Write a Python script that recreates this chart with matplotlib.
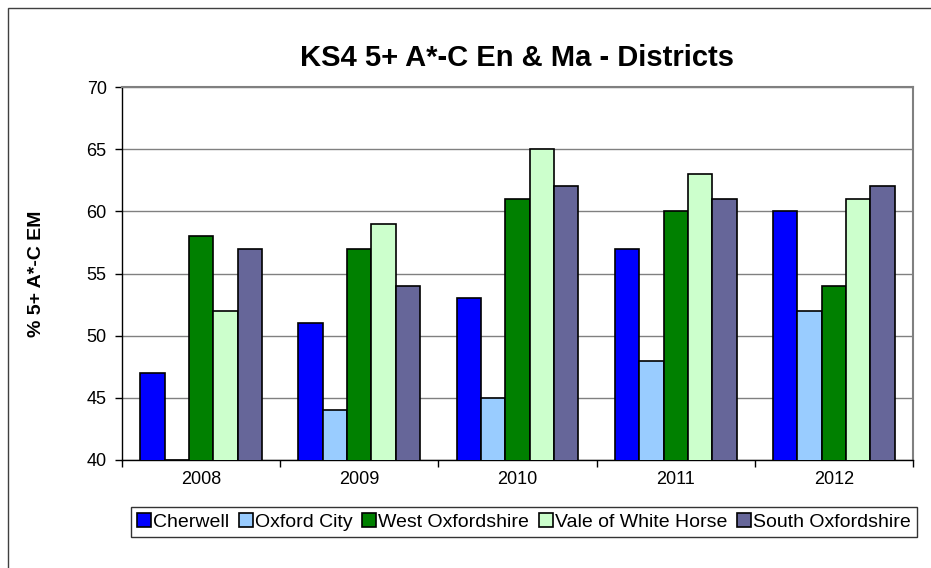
import numpy as np
import matplotlib.pyplot as plt
from matplotlib.patches import Rectangle

plt.rcParams['font.family'] = ['Liberation Sans', 'DejaVu Sans']

years = ['2008', '2009', '2010', '2011', '2012']
districts = ['Cherwell', 'Oxford City', 'West Oxfordshire',
             'Vale of White Horse', 'South Oxfordshire']
cherwell = [47, 51, 53, 57, 60]
oxford_city = [40, 44, 45, 48, 52]
west_oxon = [58, 57, 61, 60, 54]
vale_wh = [52, 59, 65, 63, 61]
south_oxon = [57, 54, 62, 61, 62]
colors = ['#0000FF', '#99CCFF', '#008000', '#CCFFCC', '#666699']

series = [cherwell, oxford_city, west_oxon, vale_wh, south_oxon]

fig = plt.figure(figsize=(9.31, 5.68), dpi=100)
ax = fig.add_axes([122 / 931, 1 - 460 / 568, (913 - 122) / 931, (460 - 87) / 568])

# border around whole chart
fig.patches.append(Rectangle((8 / 931, -0.01), 1.0, 1 - 8 / 568 + 0.01,
                             transform=fig.transFigure, fill=False,
                             edgecolor='#404040', linewidth=1.0))

x = np.arange(len(years))
w = 1 / 6.5
for i, (name, vals) in enumerate(zip(districts, series)):
    ax.bar(x + (i - 2) * w, vals, width=w, color=colors[i],
           edgecolor='black', linewidth=1.2, label=name, zorder=3)

ax.set_ylim(40, 70)
ax.set_xlim(-0.5, len(years) - 0.5)
ax.set_yticks(np.arange(40, 71, 5))
ax.yaxis.grid(True, color='#808080', linewidth=1.0, zorder=0)
ax.set_xticks(x)
ax.set_xticklabels(years)
ax.set_xticks(np.arange(-0.5, len(years), 1), minor=True)
ax.tick_params(axis='x', which='major', length=0, labelsize=13, pad=8)
ax.tick_params(axis='x', which='minor', length=5, width=1, direction='out')
ax.tick_params(axis='y', length=5, width=1, labelsize=13, pad=6)

for s in ['top', 'right']:
    ax.spines[s].set_color('#808080')
    ax.spines[s].set_linewidth(1.5)
for s in ['left', 'bottom']:
    ax.spines[s].set_color('black')
    ax.spines[s].set_linewidth(1.0)

ax.set_ylabel('% 5+ A*-C EM', fontsize=14, fontweight='bold', labelpad=30)
fig.text(517 / 931, 1 - 58 / 568, 'KS4 5+ A*-C En & Ma - Districts',
         ha='center', va='center', fontsize=21, fontweight='bold')

leg = fig.legend(loc='center', bbox_to_anchor=(524 / 931, 1 - 522 / 568),
                 ncol=5, fontsize=14, frameon=True, fancybox=False,
                 handlelength=0.7, handleheight=0.7, handletextpad=0.12,
                 columnspacing=0.5, borderpad=0.3)
leg.get_frame().set_edgecolor('black')
leg.get_frame().set_linewidth(1.0)

plt.savefig('out.png', dpi=100)
